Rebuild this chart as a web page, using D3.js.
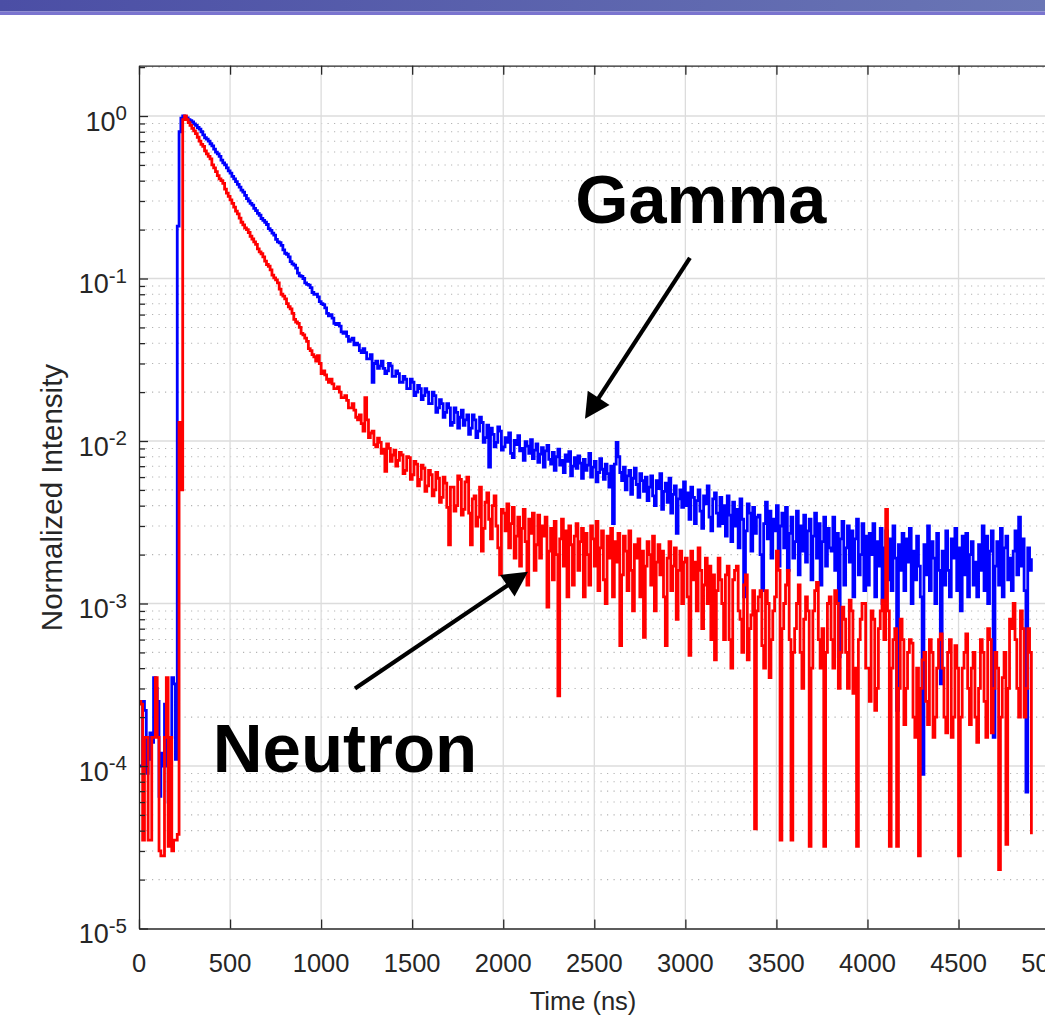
<!DOCTYPE html>
<html><head><meta charset="utf-8">
<script src="https://cdn.jsdelivr.net/npm/d3@7"></script>
<style>body{margin:0;background:#fff}svg{display:block}</style>
</head><body><svg id="c" width="1045" height="1018"></svg>
<script>
// ---------------- data ----------------
const binWidthNs = 10;               // one value per 10 ns bin, first bin at 0 ns
// Gamma (blue) normalized intensity, rows of 20 bins = 200 ns (row start in comment)
const gammaIntensity = [
  1.0e-4, 1.0e-4, 2.5e-4, 2.2e-4, 9.0e-5, 1.1e-4, 1.6e-4, 1.4e-4, 3.5e-4, 3.0e-4, 2.5e-4, 6.5e-5, 1.2e-4, 1.0e-4, 2.4e-4, 1.0e-4, 6.0e-5, 1.5e-4, 3.5e-4, 3.2e-4, // 0
  1.1e-4, 0.21, 0.80, 0.97, 1.0, 0.99, 0.975, 0.95, 0.935, 0.92, 0.895, 0.875, 0.85, 0.83, 0.80, 0.765, 0.735, 0.72, 0.70, 0.675, // 200
  0.655, 0.625, 0.60, 0.585, 0.565, 0.535, 0.515, 0.50, 0.48, 0.46, 0.445, 0.425, 0.41, 0.395, 0.38, 0.365, 0.35, 0.34, 0.325, 0.31, // 400
  0.30, 0.29, 0.283, 0.27, 0.262, 0.252, 0.245, 0.234, 0.228, 0.222, 0.215, 0.203, 0.198, 0.190, 0.185, 0.174, 0.168, 0.166, 0.160, 0.150, // 600
  0.143, 0.141, 0.136, 0.127, 0.123, 0.121, 0.116, 0.108, 0.104, 0.103, 0.100, 0.094, 0.092, 0.091, 0.088, 0.082, 0.080, 0.080, 0.077, 0.072, // 800
  0.070, 0.069, 0.066, 0.061, 0.059, 0.060, 0.057, 0.053, 0.052, 0.053, 0.051, 0.047, 0.046, 0.047, 0.044, 0.041, 0.042, 0.043, 0.039, 0.040, // 1000
  0.039, 0.036, 0.035, 0.037, 0.035, 0.032, 0.032, 0.034, 0.023, 0.030, 0.031, 0.028, 0.029, 0.031, 0.028, 0.026, 0.027, 0.030, 0.029, 0.025, // 1200
  0.025, 0.027, 0.026, 0.023, 0.023, 0.025, 0.024, 0.021, 0.021, 0.024, 0.023, 0.019, 0.020, 0.022, 0.021, 0.018, 0.019, 0.021, 0.020, 0.017, // 1400
  0.017, 0.020, 0.019, 0.015, 0.016, 0.018, 0.017, 0.014, 0.015, 0.017, 0.016, 0.0125, 0.013, 0.016, 0.015, 0.012, 0.014, 0.0155, 0.0125, 0.0135, // 1600
  0.0145, 0.011, 0.012, 0.0145, 0.0135, 0.0105, 0.0115, 0.014, 0.013, 0.0098, 0.0105, 0.0125, 0.0069, 0.012, 0.011, 0.0092, 0.0098, 0.0122, 0.0115, 0.0088, // 1800
  0.0092, 0.0105, 0.0098, 0.0112, 0.0084, 0.0079, 0.0101, 0.0095, 0.0108, 0.0087, 0.0090, 0.0076, 0.0099, 0.0093, 0.0084, 0.0102, 0.0078, 0.0088, 0.0096, 0.0074, // 2000
  0.0083, 0.0091, 0.0069, 0.0087, 0.0094, 0.0077, 0.0072, 0.0085, 0.0066, 0.0080, 0.0089, 0.0071, 0.0076, 0.0064, 0.0082, 0.0075, 0.0086, 0.0061, 0.0070, 0.0079, // 2200
  0.0068, 0.0081, 0.0073, 0.0059, 0.0077, 0.0066, 0.0071, 0.0084, 0.0060, 0.0069, 0.0075, 0.0056, 0.0064, 0.0078, 0.0067, 0.0058, 0.0072, 0.0063, 0.0052, 0.0070, // 2400
  0.0031, 0.0072, 0.0098, 0.0080, 0.0064, 0.0057, 0.0069, 0.0050, 0.0061, 0.0066, 0.0047, 0.0059, 0.0068, 0.0054, 0.0045, 0.0063, 0.0057, 0.0049, 0.0060, 0.0043, // 2600
  0.0052, 0.0061, 0.0046, 0.0040, 0.0057, 0.0051, 0.0063, 0.0038, 0.0049, 0.0055, 0.0042, 0.0059, 0.0036, 0.0047, 0.0053, 0.0027, 0.0044, 0.0050, 0.0039, 0.0056, // 2800
  0.0040, 0.0048, 0.0033, 0.0052, 0.0045, 0.0031, 0.0043, 0.0050, 0.0037, 0.0029, 0.0046, 0.0041, 0.0053, 0.0034, 0.0028, 0.0044, 0.0048, 0.0036, 0.0030, 0.0045, // 3000
  0.0031, 0.0040, 0.0026, 0.0046, 0.0035, 0.0024, 0.0042, 0.0030, 0.0038, 0.0022, 0.0044, 0.0033, 0.0011, 0.0028, 0.0041, 0.0036, 0.0021, 0.0039, 0.0027, 0.0034, // 3200
  0.0035, 0.0020, 0.0012, 0.0031, 0.0042, 0.0025, 0.0037, 0.0019, 0.0033, 0.0028, 0.0040, 0.0017, 0.0030, 0.0036, 0.0022, 0.0039, 0.0016, 0.0027, 0.0034, 0.0019, // 3400
  0.0024, 0.0037, 0.0015, 0.0030, 0.0021, 0.0035, 0.0018, 0.0028, 0.0033, 0.0014, 0.0026, 0.0036, 0.0019, 0.0031, 0.0013, 0.0024, 0.0034, 0.0017, 0.0029, 0.0022, // 3600
  0.0021, 0.0034, 0.0016, 0.0027, 0.00047, 0.0025, 0.0032, 0.0013, 0.0022, 0.0030, 0.0018, 0.0028, 0.0011, 0.0025, 0.0033, 0.0015, 0.0020, 0.0031, 0.0012, 0.0026, // 3800
  0.0013, 0.0027, 0.0020, 0.0031, 0.0011, 0.0024, 0.0017, 0.0029, 0.0010, 0.0022, 0.0028, 0.0014, 0.0025, 0.0012, 0.0030, 0.0019, 0.00022, 0.0023, 0.0016, 0.0027, // 4000
  0.0012, 0.0025, 0.0018, 0.0029, 0.0010, 0.0021, 0.0014, 0.0026, 0.0017, 0.0011, 0.000089, 0.0023, 0.0015, 0.0030, 0.0012, 0.0024, 0.0019, 0.0010, 0.0027, 0.0016, // 4200
  0.00032, 0.0021, 0.0013, 0.0028, 0.0016, 0.0011, 0.0025, 0.0019, 0.0029, 0.0012, 0.0022, 0.0009, 0.0026, 0.0015, 0.0027, 0.0011, 0.0020, 0.0024, 0.0013, 0.0018, // 4400
  0.0011, 0.0023, 0.0016, 0.0030, 0.0012, 0.0026, 0.0010, 0.0021, 0.0028, 0.00015, 0.0017, 0.0024, 0.0013, 0.0029, 0.0011, 0.0022, 0.0026, 0.0014, 0.0019, 0.0012, // 4600
  0.0021, 0.0028, 0.0015, 0.0034, 0.0017, 0.0025, 0.0012, 0.000069, 0.0022, 0.0016, 0.0019 // 4800
];
// Neutron (red) normalized intensity, rows of 20 bins = 200 ns (row start in comment)
const neutronIntensity = [
  2.5e-4, 2.4e-4, 3.5e-5, 1.5e-4, 1.5e-4, 3.5e-5, 3.5e-5, 1.5e-4, 1.5e-4, 3.5e-4, 1.5e-4, 3.0e-5, 2.8e-5, 2.8e-5, 1.5e-4, 3.5e-4, 3.2e-5, 1.5e-4, 3.0e-5, 3.5e-5, // 0
  3.5e-5, 3.8e-5, 0.013, 0.005, 0.95, 1.0, 0.95, 0.91, 0.875, 0.84, 0.81, 0.78, 0.74, 0.70, 0.67, 0.65, 0.61, 0.585, 0.565, 0.545, // 200
  0.50, 0.48, 0.455, 0.43, 0.41, 0.40, 0.385, 0.355, 0.335, 0.32, 0.305, 0.29, 0.275, 0.26, 0.25, 0.235, 0.222, 0.214, 0.205, 0.20, // 400
  0.192, 0.182, 0.175, 0.168, 0.162, 0.152, 0.146, 0.142, 0.136, 0.128, 0.122, 0.119, 0.113, 0.105, 0.101, 0.098, 0.094, 0.086, 0.080, 0.078, // 600
  0.075, 0.070, 0.067, 0.065, 0.061, 0.056, 0.054, 0.053, 0.050, 0.046, 0.045, 0.043, 0.041, 0.037, 0.036, 0.034, 0.033, 0.031, 0.0335, 0.030, // 800
  0.026, 0.027, 0.0255, 0.024, 0.023, 0.024, 0.0225, 0.021, 0.021, 0.0215, 0.020, 0.0185, 0.0185, 0.019, 0.0178, 0.016, 0.016, 0.017, 0.0155, 0.014, // 1000
  0.0135, 0.0145, 0.0128, 0.0115, 0.0185, 0.0135, 0.0105, 0.0112, 0.0115, 0.0095, 0.0092, 0.0104, 0.0098, 0.0084, 0.0089, 0.0065, 0.0096, 0.0090, 0.0075, 0.0082, // 1200
  0.0088, 0.0070, 0.0076, 0.0085, 0.0082, 0.0063, 0.0066, 0.0080, 0.0079, 0.0058, 0.0062, 0.0075, 0.0072, 0.0053, 0.0058, 0.0071, 0.0068, 0.0049, 0.0053, 0.0066, // 1400
  0.0062, 0.0046, 0.0050, 0.0064, 0.0059, 0.0042, 0.0045, 0.0060, 0.0055, 0.0039, 0.0023, 0.0052, 0.0052, 0.0037, 0.0040, 0.0061, 0.0058, 0.0035, 0.0038, 0.0056, // 1600
  0.0060, 0.0036, 0.0023, 0.0044, 0.0046, 0.0030, 0.0034, 0.0052, 0.0021, 0.0029, 0.0042, 0.0048, 0.0033, 0.0025, 0.0040, 0.0046, 0.0030, 0.0022, 0.0015, 0.0038, // 1800
  0.0036, 0.0028, 0.0041, 0.0022, 0.0031, 0.0039, 0.0019, 0.0026, 0.0034, 0.0017, 0.0029, 0.0038, 0.0024, 0.0013, 0.0033, 0.0027, 0.0036, 0.0016, 0.0023, 0.0035, // 2000
  0.0019, 0.0030, 0.0026, 0.0034, 0.00095, 0.0021, 0.0029, 0.0014, 0.0032, 0.0020, 0.00027, 0.0025, 0.0033, 0.0017, 0.0028, 0.0011, 0.0030, 0.0023, 0.0013, 0.0026, // 2200
  0.0031, 0.0016, 0.0024, 0.0029, 0.0011, 0.0027, 0.0020, 0.0013, 0.0030, 0.0025, 0.0017, 0.0032, 0.0012, 0.0022, 0.0028, 0.0014, 0.0010, 0.0026, 0.0019, 0.0029, // 2400
  0.0011, 0.0024, 0.0018, 0.0027, 0.00055, 0.0015, 0.0026, 0.0021, 0.0012, 0.0028, 0.0016, 0.0009, 0.0023, 0.0019, 0.0025, 0.0011, 0.0021, 0.00062, 0.0017, 0.0024, // 2600
  0.0020, 0.0013, 0.0026, 0.0009, 0.0018, 0.0023, 0.0015, 0.0021, 0.0011, 0.00055, 0.0019, 0.0024, 0.0012, 0.0017, 0.0022, 0.0008, 0.0016, 0.0021, 0.0010, 0.0018, // 2800
  0.0019, 0.0011, 0.00048, 0.0021, 0.0014, 0.0018, 0.0009, 0.0022, 0.0016, 0.0007, 0.0013, 0.0019, 0.0010, 0.0017, 0.0006, 0.0015, 0.00045, 0.0012, 0.0019, 0.0014, // 3000
  0.0010, 0.0006, 0.0015, 0.0017, 0.0006, 0.0004, 0.0014, 0.0016, 0.0017, 0.0009, 0.0008, 0.0005, 0.0013, 0.0015, 0.00045, 0.0007, 0.00085, 0.0012, 0.000041, 0.0009, // 3200
  0.0011, 0.0012, 0.00055, 0.0004, 0.0012, 0.0010, 0.00035, 0.0006, 0.0009, 0.0011, 0.0021, 0.0016, 0.000035, 0.0007, 0.0010, 0.0013, 0.0016, 0.0006, 0.000035, 0.0005, // 3400
  0.0007, 0.0010, 0.0013, 0.0005, 0.0003, 0.0008, 0.0011, 0.0009, 0.000032, 0.0004, 0.0009, 0.0012, 0.00135, 0.0006, 0.0004, 0.0007, 0.000032, 0.0005, 0.0010, 0.0011, // 3600
  0.0006, 0.0004, 0.0012, 0.0010, 0.0003, 0.0005, 0.00095, 0.0008, 0.0005, 0.0003, 0.00105, 0.0009, 0.00028, 0.0004, 0.000032, 0.0006, 0.0008, 0.0010, 0.0010, 0.0004, // 3800
  0.0004, 0.00025, 0.0009, 0.0008, 0.00022, 0.0003, 0.0007, 0.0009, 0.00105, 0.0006, 0.0038, 0.0009, 0.000032, 0.0004, 0.0006, 0.0007, 0.000032, 0.0003, 0.0008, 0.0006, // 4000
  0.00018, 0.0003, 0.0005, 0.0006, 0.00057, 0.0002, 0.00015, 0.0004, 0.000028, 0.0003, 0.00045, 0.0005, 0.00025, 0.00018, 0.0006, 0.0005, 0.00015, 0.0002, 0.0004, 0.0006, // 4200
  0.00065, 0.0004, 0.0002, 0.00016, 0.0005, 0.0006, 0.00015, 0.0002, 0.00055, 0.0004, 0.000028, 0.0002, 0.0004, 0.0005, 0.00065, 0.0003, 0.00018, 0.0004, 0.0005, 0.0002, // 4400
  0.00014, 0.0003, 0.0006, 0.0005, 0.00025, 0.00015, 0.0007, 0.0006, 0.00016, 0.0003, 0.0005, 0.0004, 0.000023, 0.0002, 0.00035, 0.0005, 0.000033, 0.0003, 0.0008, 0.0007, // 4600
  0.001, 0.0006, 0.0003, 0.0002, 0.0009, 0.0007, 0.0002, 0.0003, 0.0007, 0.0005, 0.000038 // 4800
];
const xTickValues = [0, 500, 1000, 1500, 2000, 2500, 3000, 3500, 4000, 4500, 5000];
const xTickLabels = ["0", "500", "1000", "1500", "2000", "2500", "3000", "3500", "4000", "4500", "5000"];
const yDecadeExponents = [-5, -4, -3, -2, -1, 0];
const yTickLabels = ["-5", "-4", "-3", "-2", "-1", "0"];
const xAxisTitle = "Time (ns)";
const yAxisTitle = "Normalized Intensity";
const seriesNames = ["Gamma", "Neutron"];
const seriesColors = ["#0000ff", "#ff0000"];
// annotation anchors in data units: label position and arrow from/to
const gammaNote = { label: [2395, 0.22], from: [3025, 0.134], to: [2449, 0.0137] };
const neutronNote = { label: [405, 9.2e-5], from: [1186, 3.0e-4], to: [2136, 1.57e-3] };

// ---------------- layout ----------------
const svg = d3.select("#c");
const W = 1045, H = 1018;
const plot = { left: 139, top: 65.7, bottom: 928.5, right: 1049.6 };
const FONT = "'Liberation Sans', Arial, Helvetica, sans-serif";
const AX = "#262626";

const x = d3.scaleLinear().domain([0, 5000]).range([plot.left, plot.right]);
const y = d3.scaleLog().domain([1e-5, 2.04]).range([plot.bottom, plot.top]);

// header band
const defs = svg.append("defs");
const g0 = defs.append("linearGradient").attr("id", "hdr").attr("x1", "0").attr("x2", "1").attr("y1", "0").attr("y2", "0");
g0.append("stop").attr("offset", "0").attr("stop-color", "#4b4ea5");
g0.append("stop").attr("offset", "1").attr("stop-color", "#6a76b5");
svg.append("rect").attr("width", W).attr("height", H).attr("fill", "#fff");
svg.append("rect").attr("x", 0).attr("y", 0).attr("width", W).attr("height", 11.5).attr("fill", "url(#hdr)");
svg.append("rect").attr("x", 0).attr("y", 11.5).attr("width", W).attr("height", 3.5).attr("fill", "#7a74cf");

defs.append("clipPath").attr("id", "pc").append("rect")
  .attr("x", plot.left).attr("y", plot.top).attr("width", plot.right - plot.left).attr("height", plot.bottom - plot.top);

// grid
const grid = svg.append("g");
const decades = yDecadeExponents.map(e => Math.pow(10, e));
const minors = [];
yDecadeExponents.forEach(e => { for (let k = 2; k <= 9; k++) { const v = k * Math.pow(10, e); if (v <= 2.04) minors.push(v); } });
grid.selectAll(".mn").data(minors).join("line")
  .attr("x1", plot.left).attr("x2", plot.right).attr("y1", d => y(d)).attr("y2", d => y(d))
  .attr("stroke", "#b3b3b3").attr("stroke-width", 1.1).attr("stroke-dasharray", "1.2 5.3");
grid.selectAll(".vx").data(xTickValues.slice(1)).join("line")
  .attr("x1", d => x(d)).attr("x2", d => x(d)).attr("y1", plot.top).attr("y2", plot.bottom)
  .attr("stroke", "#dcdcdc").attr("stroke-width", 1.3);
grid.selectAll(".hy").data(decades.slice(1)).join("line")
  .attr("x1", plot.left).attr("x2", plot.right).attr("y1", d => y(d)).attr("y2", d => y(d))
  .attr("stroke", "#dcdcdc").attr("stroke-width", 1.3);

// series
const line = d3.line().x(d => x(d[0])).y(d => y(d[1])).curve(d3.curveStepAfter);
const toPts = arr => arr.map((v, i) => [i * binWidthNs, v]);
const dataG = svg.append("g").attr("clip-path", "url(#pc)");
[gammaIntensity, neutronIntensity].forEach((arr, i) => {
  dataG.append("path").attr("d", line(toPts(arr))).attr("fill", "none")
    .attr("stroke", seriesColors[i]).attr("stroke-width", 2.8).attr("stroke-linejoin", "miter");
});

// axes
const axG = svg.append("g");
const styleAxis = g => { g.selectAll("path,line").attr("stroke", AX).attr("stroke-width", 1.3); g.selectAll("text").remove(); };
axG.append("g").attr("transform", `translate(0,${plot.bottom})`)
  .call(d3.axisBottom(x).tickValues(xTickValues).tickSize(-9).tickSizeOuter(0)).call(styleAxis);
axG.append("g").attr("transform", `translate(0,${plot.top})`)
  .call(d3.axisTop(x).tickValues(xTickValues).tickSize(-9).tickSizeOuter(0)).call(styleAxis);
axG.append("g").attr("transform", `translate(${plot.left},0)`)
  .call(d3.axisLeft(y).tickValues(decades).tickSize(-9).tickSizeOuter(0)).call(styleAxis);
axG.append("g").attr("transform", `translate(${plot.left},0)`)
  .call(d3.axisLeft(y).tickValues(minors).tickSize(-6).tickSizeOuter(0)).call(styleAxis)
  .select(".domain").remove();

// tick labels
const lab = svg.append("g").attr("font-family", FONT).attr("fill", AX);
lab.selectAll(".xl").data(xTickValues).join("text")
  .attr("x", d => x(d)).attr("y", 972).attr("text-anchor", "middle").attr("font-size", 25.5)
  .text((d, i) => xTickLabels[i]);
yDecadeExponents.forEach((e, i) => {
  const t = lab.append("text").attr("x", 127).attr("y", y(Math.pow(10, e)) + 14.5)
    .attr("text-anchor", "end").attr("font-size", 27);
  t.append("tspan").text("10");
  t.append("tspan").attr("dy", -10.5).attr("font-size", 20.5).text(yTickLabels[i]);
});
lab.append("text").attr("x", 583).attr("y", 1010).attr("text-anchor", "middle").attr("font-size", 25.5).text(xAxisTitle);
lab.append("text").attr("transform", `translate(62,497.5) rotate(-90)`).attr("text-anchor", "middle")
  .attr("font-size", 29.5).text(yAxisTitle);

// annotations
const ann = svg.append("g");
function arrow(note) {
  const [x1, y1] = [x(note.from[0]), y(note.from[1])];
  const [x2, y2] = [x(note.to[0]), y(note.to[1])];
  const dx = x2 - x1, dy = y2 - y1, L = Math.hypot(dx, dy), ux = dx / L, uy = dy / L;
  const hl = 25, hw = 13;
  const bx = x2 - ux * hl, by = y2 - uy * hl;
  ann.append("line").attr("x1", x1).attr("y1", y1).attr("x2", bx + ux * 2).attr("y2", by + uy * 2)
    .attr("stroke", "#000").attr("stroke-width", 4.2);
  ann.append("polygon").attr("fill", "#000")
    .attr("points", [[x2, y2], [bx - uy * hw, by + ux * hw], [bx + uy * hw, by - ux * hw]].map(p => p.join(",")).join(" "));
}
arrow(gammaNote); arrow(neutronNote);
ann.append("text").attr("x", x(gammaNote.label[0])).attr("y", y(gammaNote.label[1]))
  .attr("font-family", FONT).attr("font-weight", "bold").attr("font-size", 68.5).text(seriesNames[0]);
ann.append("text").attr("x", x(neutronNote.label[0])).attr("y", y(neutronNote.label[1]))
  .attr("font-family", FONT).attr("font-weight", "bold").attr("font-size", 69).text(seriesNames[1]);
</script></body></html>
